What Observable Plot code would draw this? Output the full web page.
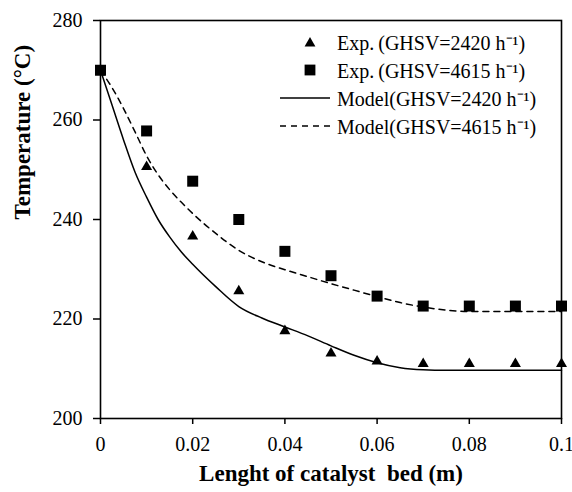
<!DOCTYPE html>
<html><head><meta charset="utf-8">
<script src="https://cdn.jsdelivr.net/npm/d3@7"></script>
<script src="https://cdn.jsdelivr.net/npm/@observablehq/plot@0.6"></script>
<style>
body{margin:0;background:#fff;}
#wrap{position:relative;width:572px;height:492px;font-family:"Liberation Serif","Times New Roman",serif;}
#legend{position:absolute;left:280px;top:28px;font-size:20px;color:#000;}
.row{display:flex;align-items:center;height:28px;}
.row svg{width:54px;height:28px;flex:none;}
.row span{white-space:nowrap;margin-left:3px;}
</style></head><body><div id="wrap"></div>
<script>
// Experimental data
const lengths = [0, 0.01, 0.02, 0.03, 0.04, 0.05, 0.06, 0.07, 0.08, 0.09, 0.1];
const expT2420 = [270, 250.6, 236.6, 225.6, 217.6, 213.1, 211.5, 211, 211, 211, 211];
const expT4615 = [270, 257.8, 247.7, 240, 233.6, 228.7, 224.6, 222.6, 222.6, 222.6, 222.6];

// Model curves
const modelX = [0, 0.0025, 0.005, 0.0075, 0.01, 0.0125, 0.015, 0.0175, 0.02, 0.025, 0.03, 0.035, 0.04, 0.045, 0.05, 0.055, 0.06, 0.065, 0.07, 0.075, 0.08, 0.09, 0.1];
const model2420 = [270, 263, 256, 249.5, 244.5, 240, 236.5, 233.5, 231, 226.5, 222.5, 220.2, 218.4, 216.6, 214.6, 212.7, 211.2, 210.2, 209.8, 209.7, 209.7, 209.7, 209.7];
const model4615 = [270, 266.5, 262.3, 257.6, 252.8, 249, 246, 243.5, 241.2, 237.2, 233.8, 231.5, 229.9, 228.5, 227.1, 225.8, 224.5, 223.3, 222.4, 221.8, 221.5, 221.5, 221.5];

const xTicks = [0, 0.02, 0.04, 0.06, 0.08, 0.1];
const xTickLabels = ["0", "0.02", "0.04", "0.06", "0.08", "0.1"];
const yTicks = [200, 220, 240, 260, 280];

const legendLabels = ["Exp.\u2009(GHSV=2420 h\u207B\u00B9)", "Exp.\u2009(GHSV=4615 h\u207B\u00B9)", "Model(GHSV=2420 h\u207B\u00B9)", "Model(GHSV=4615 h\u207B\u00B9)"];
const legendKinds = ["triangle", "square", "solid", "dashed"];

const expA = lengths.map((x, i) => ({x, y: expT2420[i]}));
const expB = lengths.map((x, i) => ({x, y: expT4615[i]}));
const modA = modelX.map((x, i) => ({x, y: model2420[i]}));
const modB = modelX.map((x, i) => ({x, y: model4615[i]}));

const font = "Liberation Serif, Times New Roman, serif";

const chart = Plot.plot({
  width: 572,
  height: 492,
  marginLeft: 100,
  marginRight: 11,
  marginTop: 20,
  marginBottom: 74,
  style: {fontFamily: font, fontSize: "20px", color: "#000", background: "#fff"},
  x: {domain: [0, 0.1]},
  y: {domain: [200, 280]},
  marks: [
    Plot.axisX({ticks: xTicks, tickFormat: (d, i) => xTickLabels[xTicks.indexOf(d)], tickSize: 6, tickPadding: 12, label: null, fontSize: 20, strokeWidth: 1.5}),
    Plot.axisY({ticks: yTicks, tickSize: 7, tickPadding: 11, label: null, fontSize: 20, strokeWidth: 1.5}),
    Plot.frame({stroke: "#000", strokeWidth: 1.6}),
    Plot.line(modA, {x: "x", y: "y", curve: "monotone-x", stroke: "#000", strokeWidth: 1.5}),
    Plot.line(modB, {x: "x", y: "y", curve: "monotone-x", stroke: "#000", strokeWidth: 1.5, strokeDasharray: "6,5"}),
    Plot.dot(expA, {x: "x", y: "y", symbol: "triangle", r: 4.1, fill: "#000", stroke: "none"}),
    Plot.dot(expB, {x: "x", y: "y", symbol: "square", r: 6.2, fill: "#000", stroke: "none"}),
    Plot.text(["Temperature (°C)"], {frameAnchor: "left", dx: -78, rotate: -90, text: d => d, fontWeight: "bold", fontSize: 23, fontFamily: font, fill: "#000"}),
    Plot.text(["Lenght of catalyst  bed (m)"], {frameAnchor: "bottom", dy: 62, text: d => d, fontWeight: "bold", fontSize: 23, fontFamily: font, fill: "#000"})
  ]
});

const wrap = document.getElementById("wrap");
wrap.appendChild(chart);

const legend = document.createElement("div");
legend.id = "legend";
legendLabels.forEach((lab, i) => {
  const row = document.createElement("div");
  row.className = "row";
  const kind = legendKinds[i];
  let sym = "";
  if (kind === "triangle") sym = '<polygon points="24.6,18.5 35.4,18.5 30,9" fill="#000"/>';
  else if (kind === "square") sym = '<rect x="24.6" y="8.6" width="10.8" height="10.8" fill="#000"/>';
  else if (kind === "solid") sym = '<line x1="0" x2="50" y1="14" y2="14" stroke="#000" stroke-width="1.5"/>';
  else sym = '<line x1="0" x2="50" y1="14" y2="14" stroke="#000" stroke-width="1.5" stroke-dasharray="6,5"/>';
  row.innerHTML = '<svg viewBox="0 0 54 28">' + sym + '</svg><span>' + lab + '</span>';
  legend.appendChild(row);
});
wrap.appendChild(legend);
</script>
</body></html>
